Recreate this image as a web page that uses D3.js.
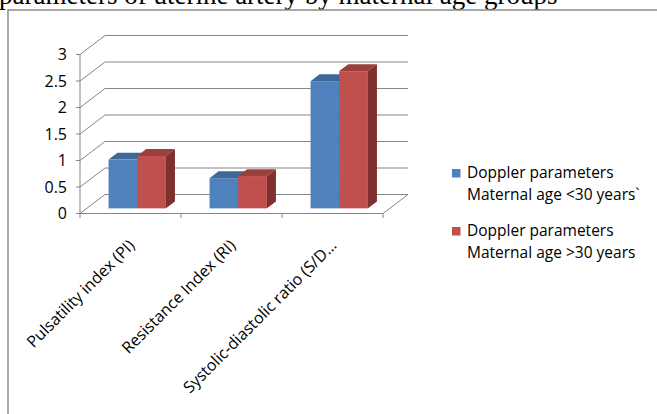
<!DOCTYPE html>
<html>
<head>
<meta charset="utf-8">
<script src="https://cdn.jsdelivr.net/npm/d3@7"></script>
<style>
  body { margin: 0; background: #fff; }
  svg { display: block; }
  .lbl { font-family: "Open Sans", sans-serif; fill: #000; }
</style>
</head>
<body>
<svg id="chart" width="657" height="414"></svg>
<script>
// data
const categories = ["Pulsatility index (PI)", "Resistance Index (RI)", "Systolic-diastolic ratio (S/D\u2026"];
const seriesNames = ["Doppler parameters|Maternal age <30 years`", "Doppler parameters|Maternal age >30 years"];
const under30 = [0.92, 0.57, 2.40];
const over30 = [0.99, 0.61, 2.59];
const yTicks = [0, 0.5, 1, 1.5, 2, 2.5, 3];

const colors = [
    {front: "#4F81BD", top: "#3D6898", side: "#36608F"},
    {front: "#C0504D", top: "#9C3E3B", side: "#7F302E"}
];

const svg = d3.select("#chart");
svg.append("rect").attr("width", 657).attr("height", 414).attr("fill", "#fff");

// page title, cut off at the top
svg.append("text")
    .attr("x", -1).attr("y", 4)
    .style("font-family", "'Liberation Serif', serif")
    .style("font-size", "27px")
    .text("parameters of uterine artery by maternal age groups");

// frame of the chart object
svg.append("path")
    .attr("d", "M8,414V10H657")
    .attr("fill", "none")
    .attr("stroke", "#8c8c8c")
    .attr("stroke-width", 1.5);

const plotLeft = 80, plotRight = 383, plotBottom = 213.5, plotTop = 54.5;
const depth = {x: 25, y: -19};

let yScale = d3.scaleLinear().domain([0, 3]).range([plotBottom, plotTop]);
let x0 = d3.scaleBand().domain(categories).range([plotLeft, plotRight]);
let x1 = d3.scaleBand().domain(seriesNames).range([0, x0.bandwidth()]).paddingOuter(0.76);

let grid = svg.append("g").attr("stroke", "#868686").attr("stroke-width", 1).attr("fill", "none");

// side wall + back wall gridlines
yTicks.forEach(t => {
    let y = yScale(t);
    grid.append("path")
        .attr("d", `M${plotLeft},${y}L${plotLeft + depth.x},${y + depth.y}H${plotRight + depth.x}`);
    grid.append("line")
        .attr("x1", plotLeft - 4).attr("x2", plotLeft).attr("y1", y).attr("y2", y);
});
grid.append("line").attr("x1", plotLeft).attr("x2", plotLeft).attr("y1", plotBottom).attr("y2", plotTop);
// floor front edge and right edge
grid.append("path")
    .attr("d", `M${plotLeft},${plotBottom}H${plotRight}L${plotRight + depth.x},${plotBottom + depth.y}`);
// category ticks
let bounds = categories.map(c => x0(c)).concat([plotRight]);
bounds.forEach(x => {
    grid.append("line").attr("x1", x).attr("x2", x).attr("y1", plotBottom).attr("y2", plotBottom + 4.5);
});

// y labels
svg.append("g").selectAll("text").data(yTicks).enter().append("text")
    .attr("class", "lbl")
    .attr("x", 67)
    .attr("y", d => yScale(d) + 5.5)
    .attr("text-anchor", "end")
    .style("font-size", "16px")
    .text(d => d);

// 3d bars
let off = {x: depth.x * 0.27, y: depth.y * 0.27};
let bd = {x: depth.x * 0.36, y: depth.y * 0.36};
let seriesValues = [under30, over30];

let bars = svg.append("g");
categories.forEach((c, i) => {
    seriesValues.forEach((vals, s) => {
        let x = x0(c) + x1(seriesNames[s]) + off.x;
        let w = x1.bandwidth();
        let yt = yScale(vals[i]) + off.y;
        let yb = yScale(0) + off.y;
        let g = bars.append("g");
        g.append("path")
            .attr("d", `M${x + w},${yb}L${x + w + bd.x},${yb + bd.y}V${yt + bd.y}L${x + w},${yt}Z`)
            .attr("fill", colors[s].side);
        g.append("path")
            .attr("d", `M${x},${yt}L${x + bd.x},${yt + bd.y}H${x + w + bd.x}L${x + w},${yt}Z`)
            .attr("fill", colors[s].top);
        g.append("rect")
            .attr("x", x).attr("y", yt)
            .attr("width", w).attr("height", yb - yt)
            .attr("fill", colors[s].front);
    });
});

// category labels, rotated
svg.append("g").selectAll("text").data(categories).enter().append("text")
    .attr("class", "lbl")
    .style("font-size", "16px")
    .attr("text-anchor", "end")
    .attr("transform", d => `translate(${x0(d) + x0.bandwidth() / 2 + 5},${plotBottom + 33}) rotate(-45)`)
    .text(d => d);

// legend
let legend = svg.append("g");
seriesNames.forEach((name, s) => {
    let ly = 169 + s * 58;
    legend.append("rect")
        .attr("x", 452).attr("y", ly)
        .attr("width", 8.5).attr("height", 8.5)
        .attr("fill", colors[s].front);
    let t = legend.append("text").attr("class", "lbl").style("font-size", "15.5px");
    name.split("|").forEach((line, k) => {
        t.append("tspan").attr("x", 467).attr("y", ly + 9 + k * 21.5).text(line);
    });
});
</script>
</body>
</html>
